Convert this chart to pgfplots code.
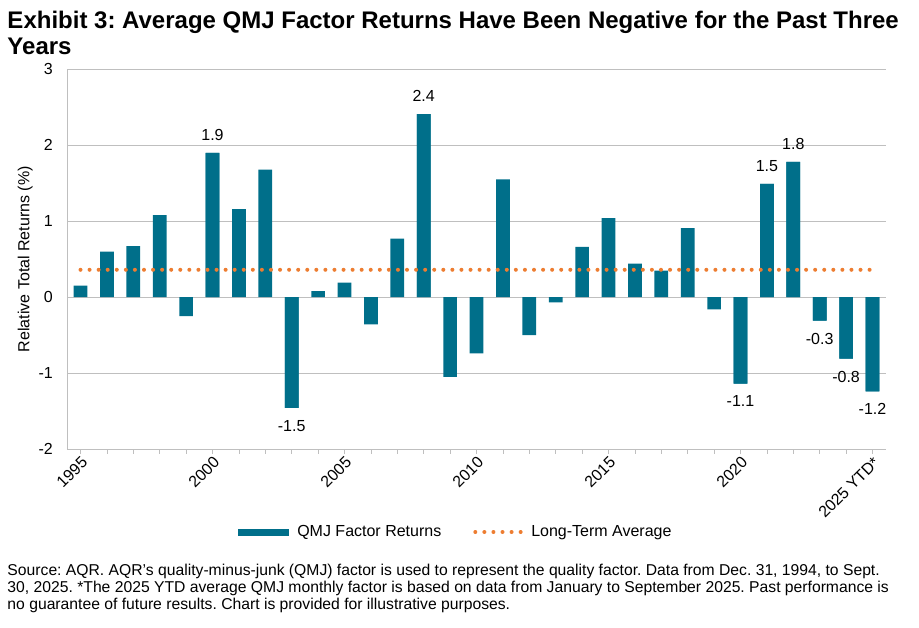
\documentclass[border=0pt]{standalone}
\usepackage{pgfplots}
\pgfplotsset{compat=1.18}
\usepackage{pgfplotstable}
\usepackage{fontspec}
\setmainfont{Liberation Sans}
\frenchspacing

\definecolor{qmjteal}{HTML}{006F8A}
\definecolor{ltavg}{HTML}{ED7D31}
\definecolor{gridgray}{HTML}{BFBFBF}

% yearly QMJ factor returns, 0 = 1995 ... 30 = 2025 YTD
\pgfplotstableread{
x y
0 0.15
1 0.60
2 0.67
3 1.08
4 -0.25
5 1.90
6 1.16
7 1.68
8 -1.46
9 0.08
10 0.19
11 -0.36
12 0.77
13 2.41
14 -1.05
15 -0.74
16 1.55
17 -0.50
18 -0.07
19 0.66
20 1.04
21 0.44
22 0.35
23 0.91
24 -0.16
25 -1.14
26 1.49
27 1.78
28 -0.31
29 -0.81
30 -1.24
}\qmjdata

% the bars that carry a value label
\pgfplotstableread{
x y
5 1.90
8 -1.46
13 2.41
25 -1.14
26 1.49
27 1.78
28 -0.31
29 -0.81
30 -1.24
}\qmjlabels

\begin{document}
\begin{tikzpicture}[font=\fontsize{16pt}{18pt}\selectfont]
\path (0,0) rectangle (919pt,627pt);

\node[anchor=base west, inner sep=0pt, font=\fontsize{24pt}{28pt}\selectfont\bfseries]
  at (7.3pt,598pt) {Exhibit 3: Average QMJ Factor Returns Have Been Negative for the Past Three};
\node[anchor=base west, inner sep=0pt, font=\fontsize{24pt}{28pt}\selectfont\bfseries]
  at (7.3pt,572pt) {Years};

\begin{axis}[
  at={(67.3pt,178pt)}, anchor=south west,
  scale only axis, width=818.4pt, height=379.7pt,
  xmin=-0.5, xmax=30.5, ymin=-2, ymax=3,
  axis x line*=bottom, axis y line*=left,
  axis line style={draw=gridgray, line width=0.8pt},
  xtick={0,5,...,30},
  xticklabels={1995,2000,2005,2010,2015,2020,2025 YTD*},
  minor xtick={0,...,30},
  xtick style={draw=gridgray, line width=0.8pt},
  tick align=outside, major tick length=5pt, minor tick length=5pt,
  xticklabel style={rotate=45, anchor=north east, inner sep=1pt},
  ytick={-2,-1,0,1,2,3},
  ytick style={draw=none},
  yticklabel style={xshift=-6pt},
  /pgf/number format/assume math mode=true,
  ymajorgrids, major grid style={draw=gridgray, line width=0.8pt},
  ylabel={Relative Total Returns (\%)},
  ylabel style={at={(axis description cs:-0.0513,0.5)}, anchor=center},
  ybar, bar width=13.7pt, bar shift=0pt,
  legend columns=2,
  legend style={draw=none, fill=none, at={(axis description cs:0.205,-0.2186)}, anchor=west,
    /tikz/every odd column/.append style={column sep=6pt},
    /tikz/every even column/.append style={column sep=30pt}},
  clip=false,
]
\addplot[fill=qmjteal, draw=none,
  legend image code/.code={\fill[qmjteal] (0pt,-3.5pt) rectangle (51pt,3.5pt);}]
  table[x=x, y=y] {\qmjdata};
\addlegendentry{QMJ Factor Returns}

\addplot[fill=qmjteal, draw=none, forget plot,
  nodes near coords,
  nodes near coords style={/pgf/number format/fixed, /pgf/number format/precision=1,
    /pgf/number format/assume math mode=true, inner ysep=12pt, text=black}]
  table[x=x, y=y] {\qmjlabels};

\addplot[sharp plot, ltavg, line width=4pt, line cap=round, dash pattern=on 0pt off 9.07pt,
  legend image code/.code={\draw[ltavg, line width=4pt, line cap=round, dash pattern=on 0pt off 9.07pt] (2pt,0pt) -- (48pt,0pt);}]
  coordinates {(0,0.36) (30,0.36)};
\addlegendentry{Long-Term Average}
\end{axis}

\begin{scope}[font=\fontsize{15.7pt}{18pt}\selectfont]
\node[anchor=base west, inner sep=0pt] at (7.3pt,52pt)
  {Source: AQR. AQR’s quality-minus-junk (QMJ) factor is used to represent the quality factor. Data from Dec. 31, 1994, to Sept.};
\node[anchor=base west, inner sep=0pt] at (7.3pt,34.3pt)
  {30, 2025. *The 2025 YTD average QMJ monthly factor is based on data from January to September 2025. Past performance is};
\node[anchor=base west, inner sep=0pt] at (7.3pt,17pt)
  {no guarantee of future results. Chart is provided for illustrative purposes.};
\end{scope}
\end{tikzpicture}
\end{document}
